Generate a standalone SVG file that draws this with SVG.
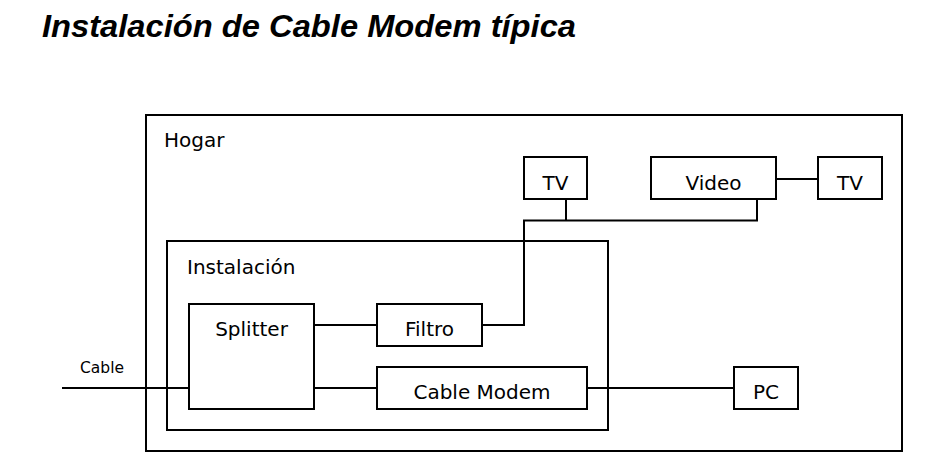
<svg xmlns="http://www.w3.org/2000/svg" width="926" height="475" viewBox="0 0 926 475">
<style>
.box{fill:none;stroke:#000;stroke-width:2}
.line{fill:none;stroke:#000;stroke-width:2}
.t{font-family:"DejaVu Sans",sans-serif;font-size:20px;fill:#000}
.c{text-anchor:middle}
.title{font-family:"Liberation Sans",Arial,sans-serif;font-size:32px;font-weight:bold;font-style:italic;fill:#000}
</style>
<rect width="926" height="475" fill="#fff"/>
<text class="title" x="42" y="37" textLength="534" lengthAdjust="spacingAndGlyphs">Instalación de Cable Modem típica</text>
<g id="hogar"><rect class="box" x="146" y="115" width="756" height="336"/><text class="t" x="164" y="147">Hogar</text></g>
<g id="instalacion"><rect class="box" x="167" y="241" width="441" height="189"/><text class="t" x="187" y="274">Instalación</text></g>
<g id="tv1"><rect class="box" x="524" y="157" width="63" height="42"/><text class="t c" x="555.5" y="190">TV</text></g>
<g id="video"><rect class="box" x="651" y="157" width="125" height="42"/><text class="t c" x="713.5" y="190">Video</text></g>
<g id="tv2"><rect class="box" x="818" y="157" width="64" height="42"/><text class="t c" x="850" y="190">TV</text></g>
<g id="splitter"><rect class="box" x="189" y="304" width="125" height="105"/><text class="t c" x="251.5" y="336">Splitter</text></g>
<g id="filtro"><rect class="box" x="377" y="304" width="105" height="42"/><text class="t c" x="429.5" y="336">Filtro</text></g>
<g id="modem"><rect class="box" x="377" y="367" width="210" height="42"/><text class="t c" x="482" y="399">Cable Modem</text></g>
<g id="pc"><rect class="box" x="734" y="367" width="64" height="42"/><text class="t c" x="766" y="399">PC</text></g>
<g id="cable-label"><text class="t" x="80" y="373" style="font-size:15.5px">Cable</text></g>
<g id="connectors">
<path class="line" d="M62 388H189"/>
<path class="line" d="M314 325H377"/>
<path class="line" d="M314 388H377"/>
<path class="line" d="M482 325H524V220.5H757V199"/>
<path class="line" d="M566 199V220.5"/>
<path class="line" d="M776 179H818"/>
<path class="line" d="M587 388H734"/>
</g>
</svg>
